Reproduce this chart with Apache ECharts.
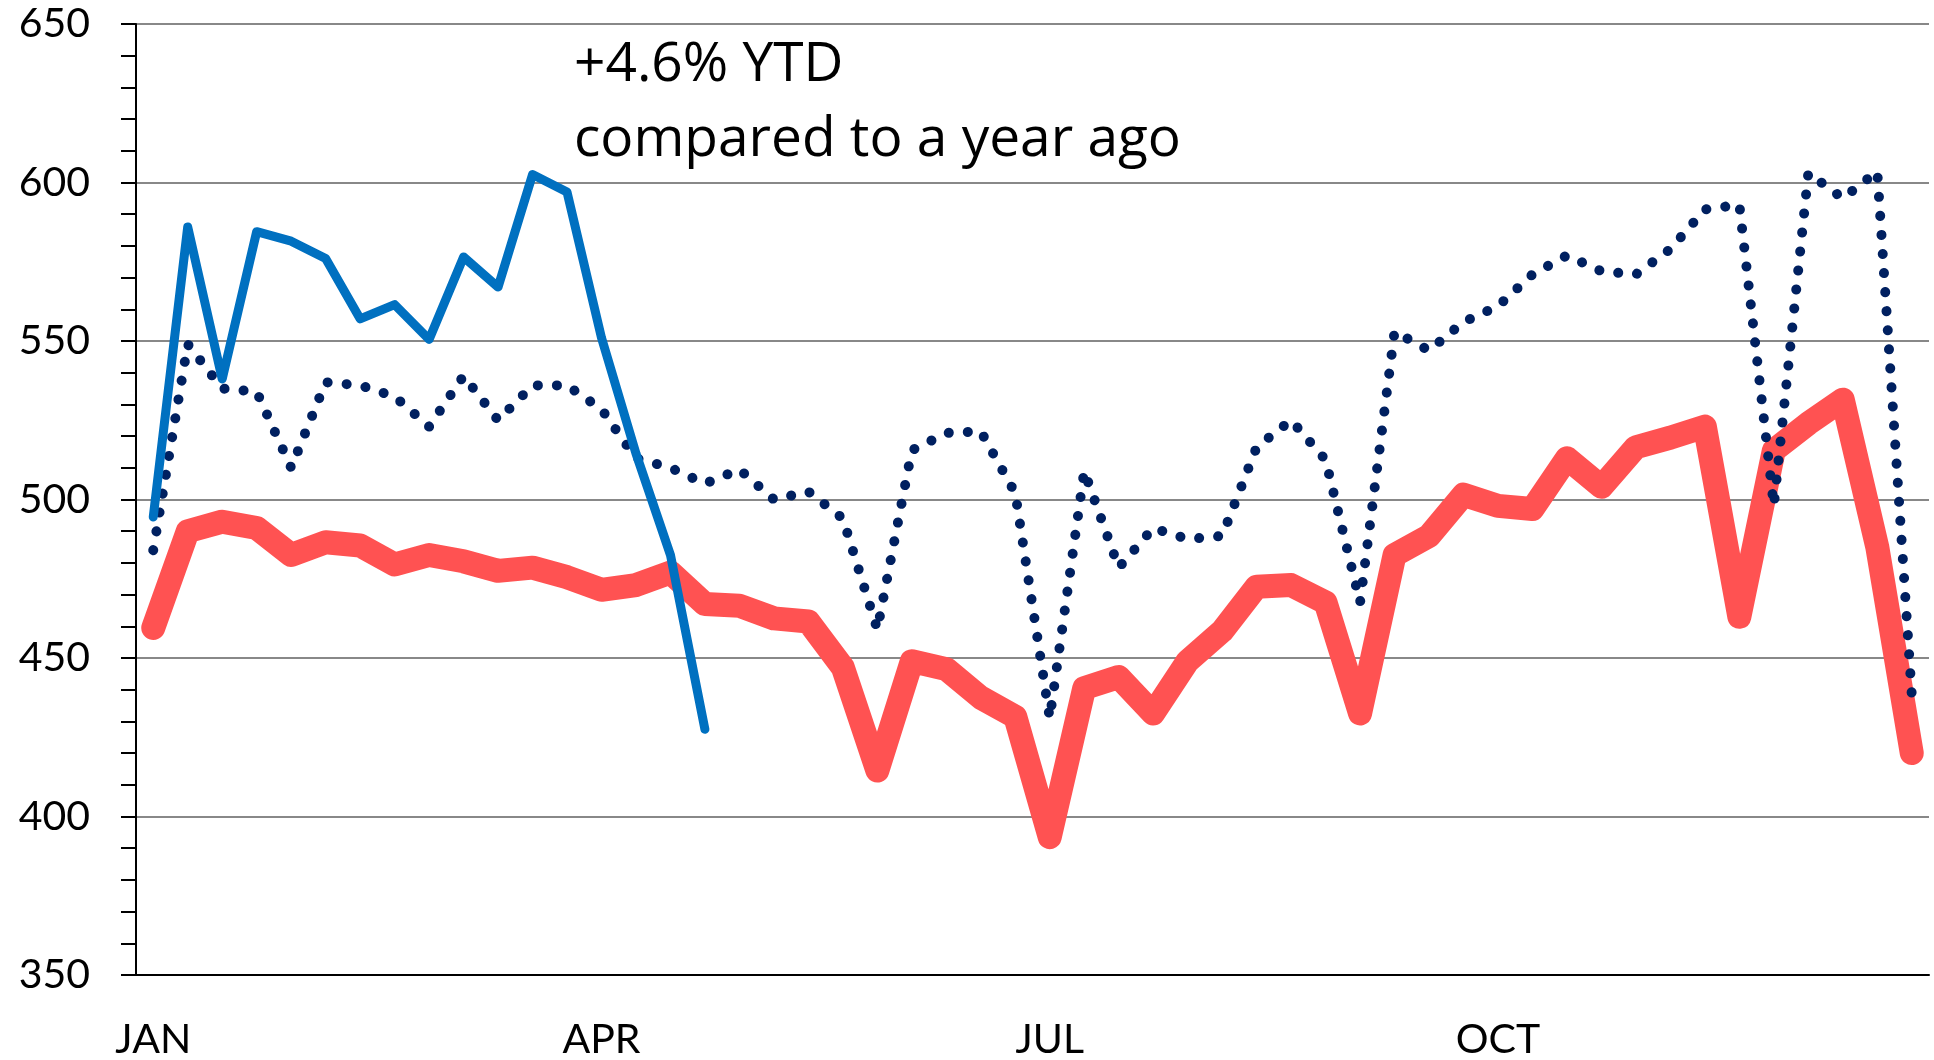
<!DOCTYPE html>
<html>
<head>
<meta charset="utf-8">
<script src="https://cdn.jsdelivr.net/npm/echarts@6/dist/echarts.min.js"></script>
<style>
  html, body { margin: 0; padding: 0; background: #fff; }
  #chart { width: 1934px; height: 1060px; }
</style>
</head>
<body>
<div id="chart"></div>
<script>
// weekly points, 52 weeks
const weeks = Array.from({ length: 52 }, (_, i) => 'W' + (i + 1));
const monthLabels = ['JAN', 'APR', 'JUL', 'OCT'];

// red thick line
const redSeries = [459.5, 490, 493, 491, 482.5, 486.5, 485.5, 479.5, 482.5, 480.5,
  477.5, 478.5, 475.5, 471.5, 473, 477, 467, 466.5, 462.5, 461.5,
  447, 414.5, 449, 446.5, 437.5, 431.5, 393.5, 440.5, 444, 432.5,
  449, 458.5, 472.5, 473, 467.5, 432.5, 482.5, 488.5, 501.5, 498,
  497, 513, 504, 516.5, 519.5, 523, 463, 515.5, 524, 531.5,
  485, 420];

// dotted navy line (a year ago)
const lastYear = [484, 549, 535, 534, 510, 537, 536, 532.5, 523, 539,
  525, 536, 536, 528.5, 513, 510, 505, 509.5, 500, 502.5,
  494, 459, 515.5, 521, 521.5, 502, 431, 509, 478.5, 491,
  487.5, 488.5, 516.5, 525, 512.5, 467.5, 553, 547, 556, 561,
  571, 577, 572, 571, 579, 591.5, 593, 498, 603, 595,
  603.5, 438.5];

// blue line (this year, stops in spring)
const thisYear = [494.5, 586, 538, 584.5, 581.5, 576, 557, 561.5, 550.5, 576.5,
  567, 602.5, 597, 551, 514.5, 482.5, 427.5];

const noteLines = ['+4.6% YTD', 'compared to a year ago'];

const chart = echarts.init(document.getElementById('chart'));

chart.setOption({
  animation: false,
  backgroundColor: '#fff',
  textStyle: { fontFamily: 'Lato' },
  grid: { left: 136, right: 5, top: 24, bottom: 84 },
  xAxis: {
    type: 'category',
    data: weeks,
    boundaryGap: true,
    axisLine: { lineStyle: { color: '#000', width: 2 } },
    axisTick: { interval: 0, length: 14, lineStyle: { color: '#000', width: 2 } },
    axisLabel: {
      interval: 0,
      margin: 44,
      fontSize: 41,
      color: '#000',
      formatter: (val, idx) => (idx % 13 === 0 ? monthLabels[idx / 13] : '')
    },
    splitLine: { show: false }
  },
  yAxis: {
    type: 'value',
    min: 350,
    max: 650,
    interval: 50,
    axisLine: { show: true, lineStyle: { color: '#000', width: 2 } },
    axisTick: { show: true, length: 15, lineStyle: { color: '#000', width: 2 } },
    minorTick: { show: true, splitNumber: 5, length: 15, lineStyle: { color: '#000', width: 2 } },
    axisLabel: { margin: 46, fontSize: 41, color: '#000' },
    splitLine: { lineStyle: { color: '#888', width: 2 } }
  },
  series: [
    {
      type: 'line',
      data: redSeries,
      showSymbol: false,
      z: 2,
      lineStyle: { color: '#FF5252', width: 24, cap: 'round', join: 'round' }
    },
    {
      type: 'line',
      data: lastYear,
      showSymbol: false,
      z: 3,
      lineStyle: { color: '#002060', width: 10, type: [0.1, 19], cap: 'round', join: 'round' }
    },
    {
      type: 'line',
      data: thisYear,
      showSymbol: false,
      connectNulls: false,
      z: 4,
      lineStyle: { color: '#0070C0', width: 9, cap: 'round', join: 'round' }
    }
  ],
  graphic: [
    {
      type: 'text',
      x: 574,
      y: 65,
      style: { text: noteLines[0], font: '55px "Open Sans"', fill: '#000', align: 'left', verticalAlign: 'middle' }
    },
    {
      type: 'text',
      x: 574,
      y: 140,
      style: { text: noteLines[1], font: '55px "Open Sans"', fill: '#000', align: 'left', verticalAlign: 'middle' }
    }
  ]
});
</script>
</body>
</html>
